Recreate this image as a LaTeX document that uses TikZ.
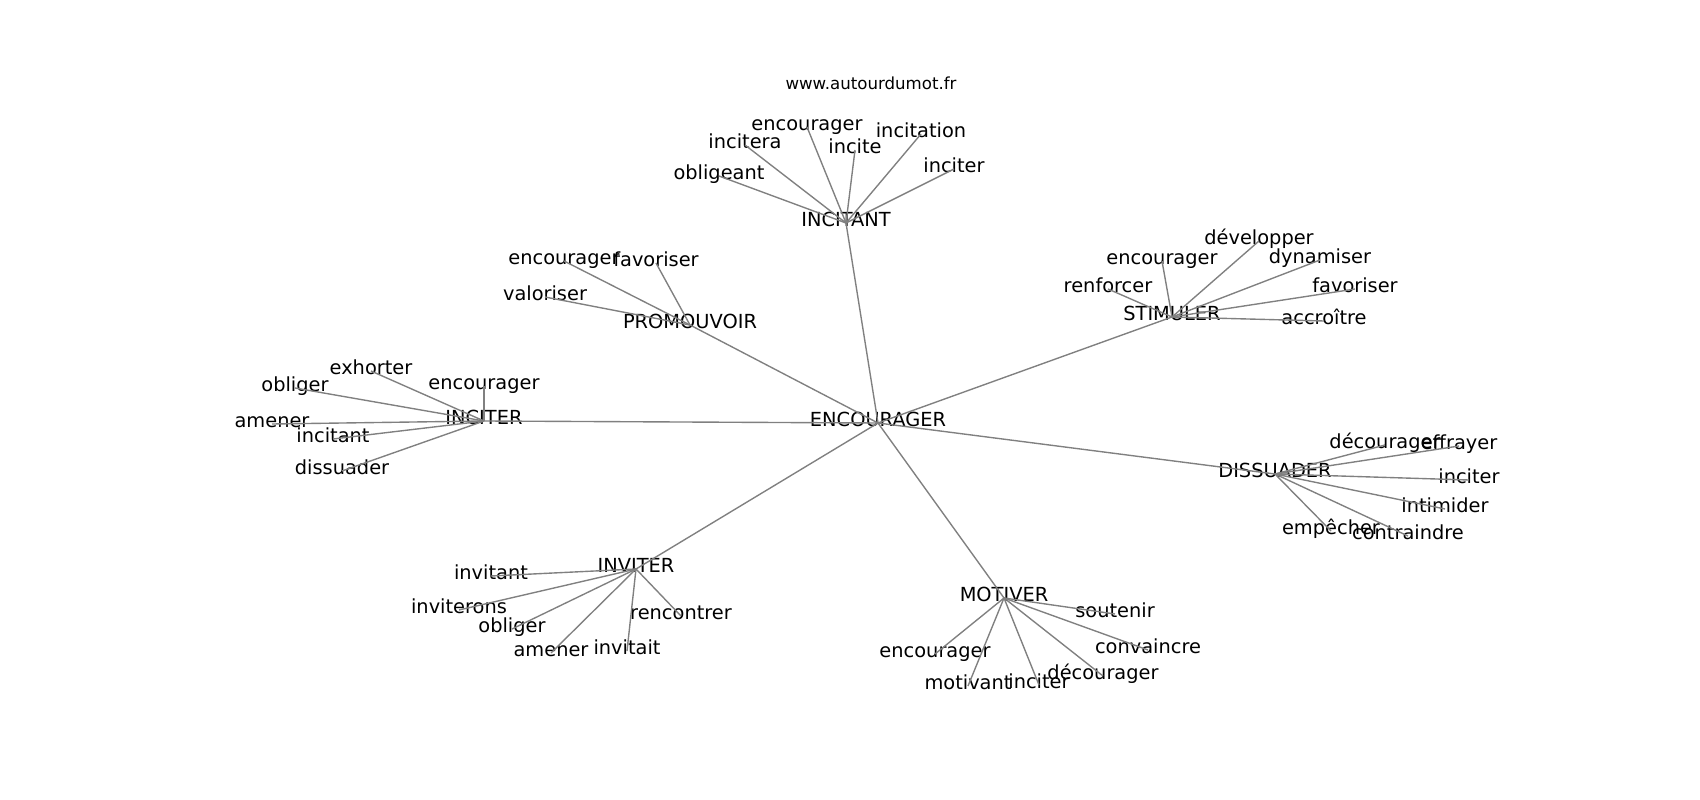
\documentclass[tikz,border=0pt]{standalone}
\usepackage{fontspec}
\setmainfont{DejaVu Sans}
\usepackage{tikz}
\tikzset{
    word/.style={
        inner sep = 0pt,
        text height = 0.76em,
        text depth = 0.24em,
        font = \fontsize{14}{16}\selectfont
    },
    hub/.style = {word},
    line/.style = {draw = gray, line width = 1pt}
}

\begin{document}
\begin{tikzpicture}[x=0.01in, y=-0.01in]

    \useasboundingbox (0,0) rectangle (1700,800);

    \node[font=\fontsize{12}{14}\selectfont] (site) at (871,83) {www.autourdumot.fr};

    \begin{scope}[shift={(0,3)}]

    % Centre
    \node[hub] (encourager) at (878,420) {ENCOURAGER};

    % Incitant
    \node[hub] (incitant) at (846,220) {INCITANT};
    \node[word] (incitant_obligeant) at (719,173) {obligeant};
    \node[word] (incitant_incitera) at (745,142) {incitera};
    \node[word] (incitant_encourager) at (807,124) {encourager};
    \node[word] (incitant_incite) at (855,147) {incite};
    \node[word] (incitant_incitation) at (921,131) {incitation};
    \node[word] (incitant_inciter) at (954,166) {inciter};

    % Promouvoir
    \node[hub] (promouvoir) at (690,322) {PROMOUVOIR};
    \node[word] (promouvoir_encourager) at (564,258) {encourager};
    \node[word] (promouvoir_favoriser) at (656,260) {favoriser};
    \node[word] (promouvoir_valoriser) at (545,294) {valoriser};

    % Stimuler
    \node[hub] (stimuler) at (1172,314) {STIMULER};
    \node[word] (stimuler_developper) at (1259,238) {développer};
    \node[word] (stimuler_encourager) at (1162,258) {encourager};
    \node[word] (stimuler_dynamiser) at (1320,257) {dynamiser};
    \node[word] (stimuler_renforcer) at (1108,286) {renforcer};
    \node[word] (stimuler_favoriser) at (1355,286) {favoriser};
    \node[word] (stimuler_accroitre) at (1324,318) {accroître};

    % Inciter
    \node[hub] (inciter) at (484,418) {INCITER};
    \node[word] (inciter_exhorter) at (371,368) {exhorter};
    \node[word] (inciter_obliger) at (295,385) {obliger};
    \node[word] (inciter_encourager) at (484,383) {encourager};
    \node[word] (inciter_amener) at (272,421) {amener};
    \node[word] (inciter_incitant) at (333,436) {incitant};
    \node[word] (inciter_dissuader) at (342,468) {dissuader};

    % Dissuader
    \node[hub] (dissuader) at (1275,471) {DISSUADER};
    \node[word] (dissuader_decourager) at (1385,442) {décourager};
    \node[word] (dissuader_effrayer) at (1459,443) {effrayer};
    \node[word] (dissuader_inciter) at (1469,477) {inciter};
    \node[word] (dissuader_intimider) at (1445,506) {intimider};
    \node[word] (dissuader_empecher) at (1331,528) {empêcher};
    \node[word] (dissuader_contraindre) at (1408,533) {contraindre};

    % Inviter
    \node[hub] (inviter) at (636,566) {INVITER};
    \node[word] (inviter_invitant) at (491,573) {invitant};
    \node[word] (inviter_inviterons) at (459,607) {inviterons};
    \node[word] (inviter_obliger) at (512,626) {obliger};
    \node[word] (inviter_rencontrer) at (681,613) {rencontrer};
    \node[word] (inviter_amener) at (551,650) {amener};
    \node[word] (inviter_invitait) at (627,648) {invitait};

    % Motiver
    \node[hub] (motiver) at (1004,595) {MOTIVER};
    \node[word] (motiver_soutenir) at (1115,611) {soutenir};
    \node[word] (motiver_convaincre) at (1148,647) {convaincre};
    \node[word] (motiver_encourager) at (935,651) {encourager};
    \node[word] (motiver_decourager) at (1103,673) {décourager};
    \node[word] (motiver_motivant) at (968,683) {motivant};
    \node[word] (motiver_inciter) at (1039,682) {inciter};

    % Lines
    \draw[line] (encourager.center) -- (incitant.center);
    \draw[line] (encourager.center) -- (promouvoir.center);
    \draw[line] (encourager.center) -- (stimuler.center);
    \draw[line] (encourager.center) -- (inciter.center);
    \draw[line] (encourager.center) -- (dissuader.center);
    \draw[line] (encourager.center) -- (inviter.center);
    \draw[line] (encourager.center) -- (motiver.center);

    \draw[line] (incitant.center) -- (incitant_obligeant.center);
    \draw[line] (incitant.center) -- (incitant_incitera.center);
    \draw[line] (incitant.center) -- (incitant_encourager.center);
    \draw[line] (incitant.center) -- (incitant_incite.center);
    \draw[line] (incitant.center) -- (incitant_incitation.center);
    \draw[line] (incitant.center) -- (incitant_inciter.center);

    \draw[line] (promouvoir.center) -- (promouvoir_encourager.center);
    \draw[line] (promouvoir.center) -- (promouvoir_favoriser.center);
    \draw[line] (promouvoir.center) -- (promouvoir_valoriser.center);

    \draw[line] (stimuler.center) -- (stimuler_developper.center);
    \draw[line] (stimuler.center) -- (stimuler_encourager.center);
    \draw[line] (stimuler.center) -- (stimuler_dynamiser.center);
    \draw[line] (stimuler.center) -- (stimuler_renforcer.center);
    \draw[line] (stimuler.center) -- (stimuler_favoriser.center);
    \draw[line] (stimuler.center) -- (stimuler_accroitre.center);

    \draw[line] (inciter.center) -- (inciter_exhorter.center);
    \draw[line] (inciter.center) -- (inciter_obliger.center);
    \draw[line] (inciter.center) -- (inciter_encourager.center);
    \draw[line] (inciter.center) -- (inciter_amener.center);
    \draw[line] (inciter.center) -- (inciter_incitant.center);
    \draw[line] (inciter.center) -- (inciter_dissuader.center);

    \draw[line] (dissuader.center) -- (dissuader_decourager.center);
    \draw[line] (dissuader.center) -- (dissuader_effrayer.center);
    \draw[line] (dissuader.center) -- (dissuader_inciter.center);
    \draw[line] (dissuader.center) -- (dissuader_intimider.center);
    \draw[line] (dissuader.center) -- (dissuader_empecher.center);
    \draw[line] (dissuader.center) -- (dissuader_contraindre.center);

    \draw[line] (inviter.center) -- (inviter_invitant.center);
    \draw[line] (inviter.center) -- (inviter_inviterons.center);
    \draw[line] (inviter.center) -- (inviter_obliger.center);
    \draw[line] (inviter.center) -- (inviter_rencontrer.center);
    \draw[line] (inviter.center) -- (inviter_amener.center);
    \draw[line] (inviter.center) -- (inviter_invitait.center);

    \draw[line] (motiver.center) -- (motiver_soutenir.center);
    \draw[line] (motiver.center) -- (motiver_convaincre.center);
    \draw[line] (motiver.center) -- (motiver_encourager.center);
    \draw[line] (motiver.center) -- (motiver_decourager.center);
    \draw[line] (motiver.center) -- (motiver_motivant.center);
    \draw[line] (motiver.center) -- (motiver_inciter.center);

    \end{scope}

\end{tikzpicture}
\end{document}
